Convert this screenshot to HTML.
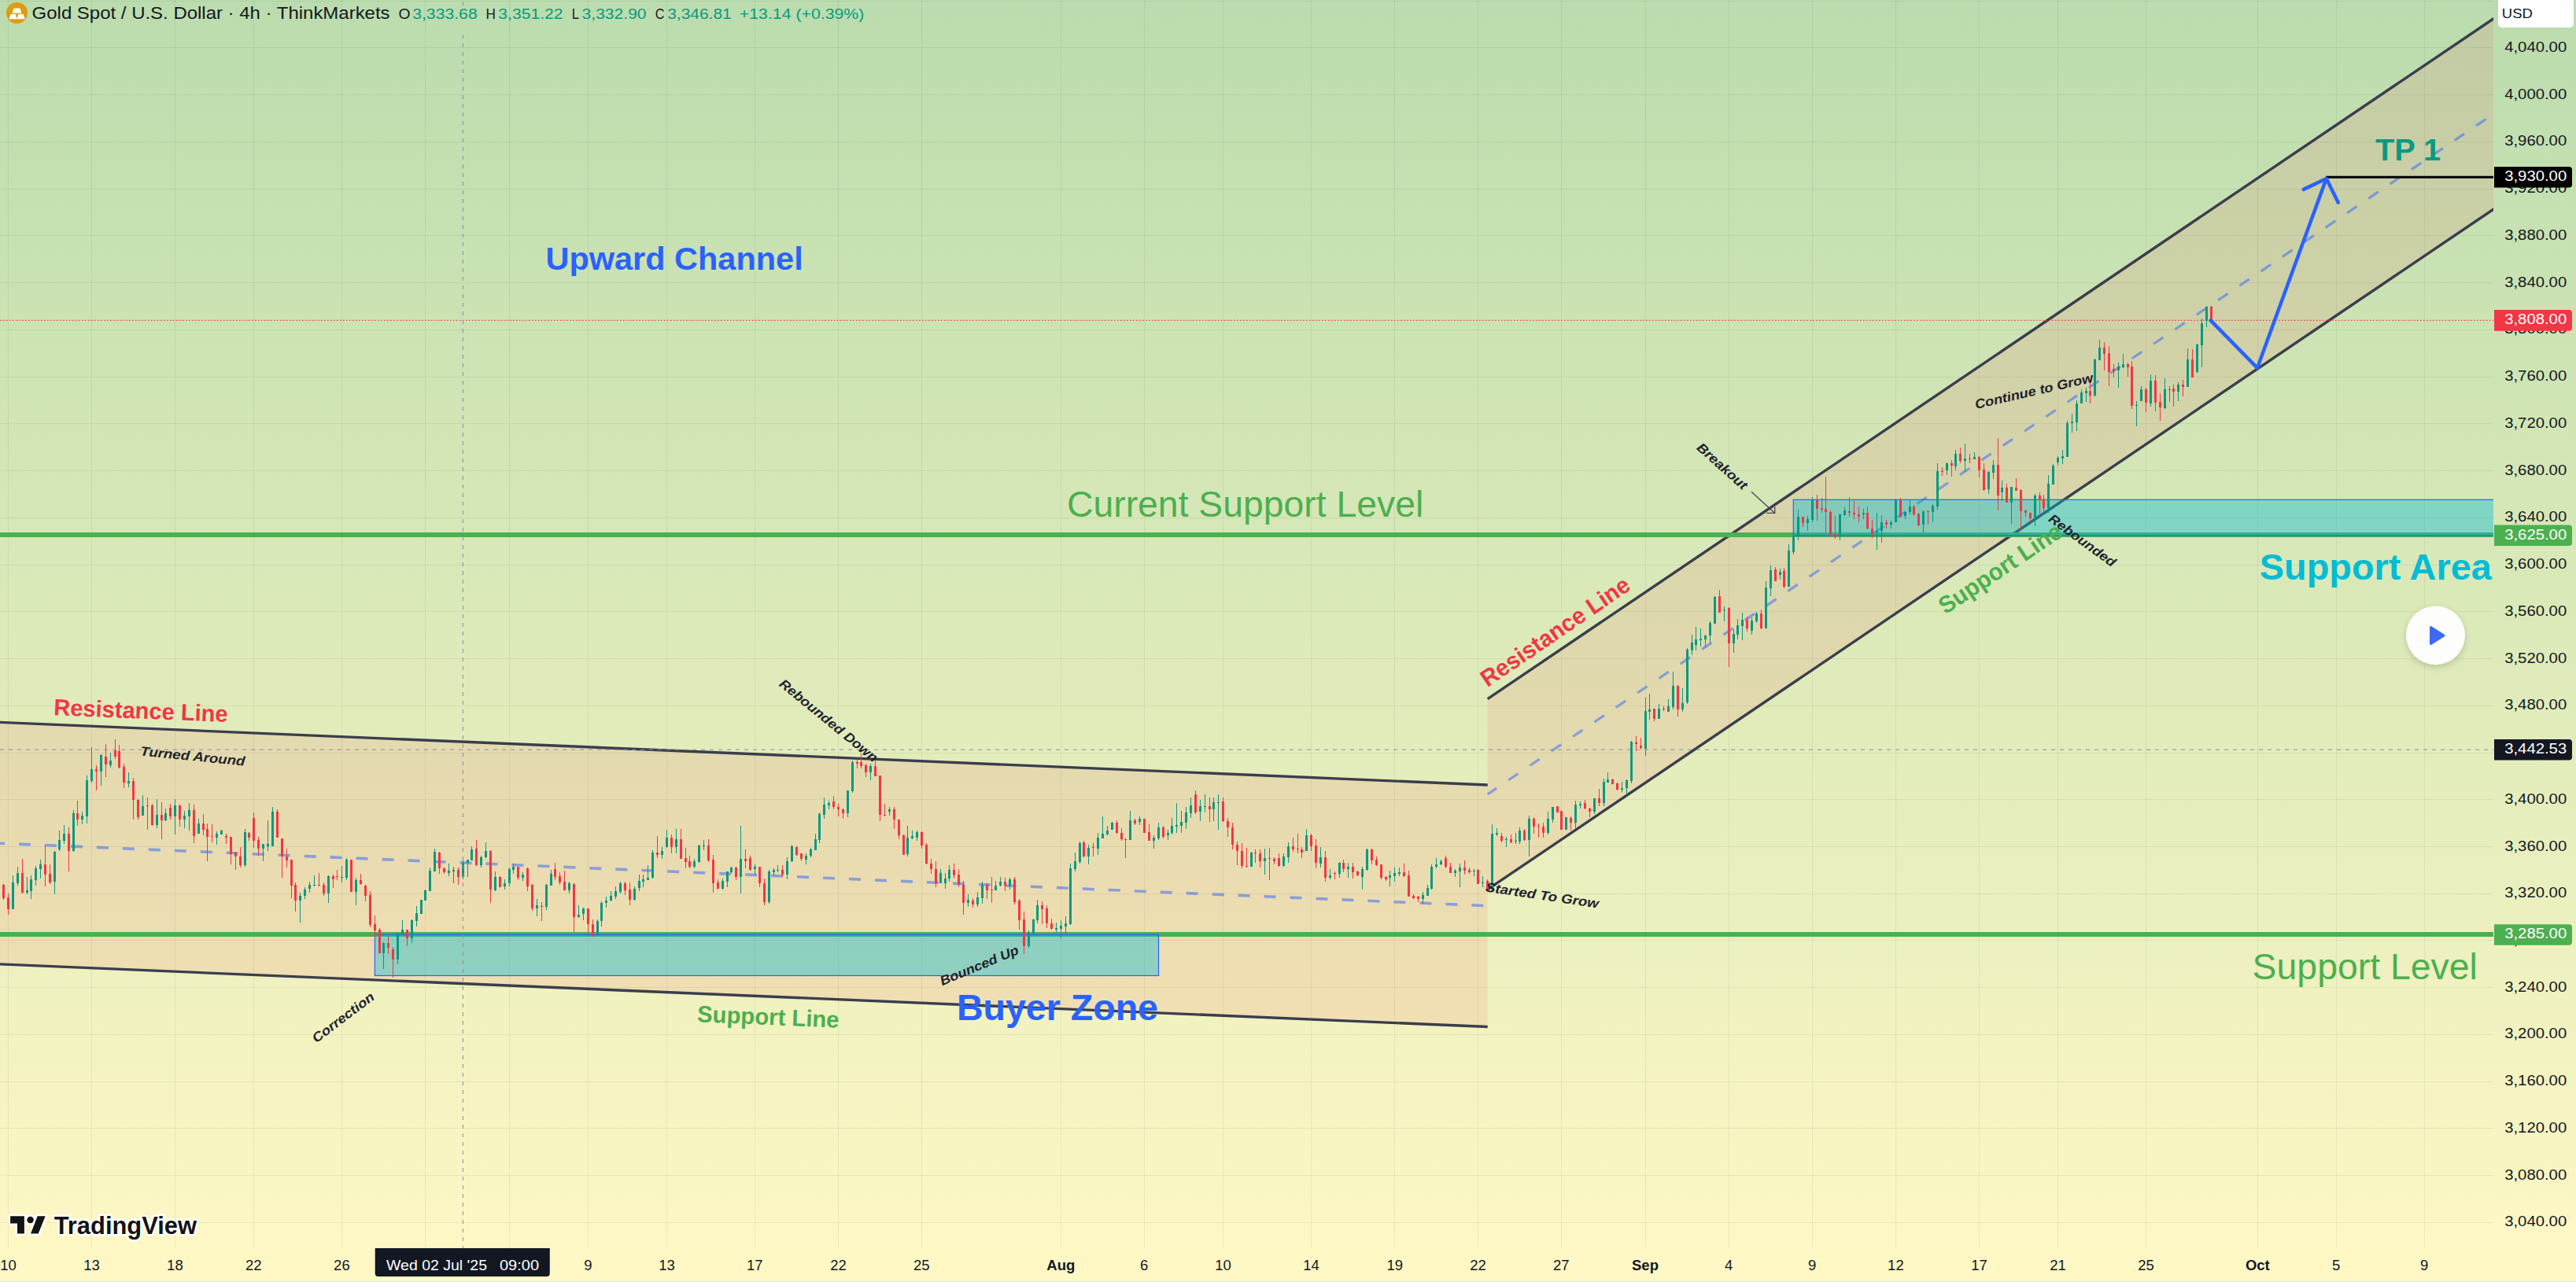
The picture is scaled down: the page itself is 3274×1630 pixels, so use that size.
<!DOCTYPE html><html><head><meta charset="utf-8"><title>Gold Spot / U.S. Dollar</title>
<style>html,body{margin:0;padding:0;background:#fef7c4;}svg{display:block}text{font-family:"Liberation Sans",sans-serif;}</style></head><body>
<svg width="3274" height="1630" viewBox="0 0 3274 1630">
<defs><linearGradient id="bg" x1="0" y1="0" x2="0" y2="1"><stop offset="0" stop-color="#bbdcae"/><stop offset="1" stop-color="#fff8c5"/></linearGradient>
<clipPath id="pane"><rect x="0" y="0" width="3169" height="1587"/></clipPath>
<filter id="sh" x="-30%" y="-30%" width="160%" height="160%"><feDropShadow dx="0" dy="3" stdDeviation="4" flood-color="#000" flood-opacity="0.18"/></filter></defs>
<rect width="3274" height="1630" fill="url(#bg)"/>
<g stroke="#000" stroke-opacity="0.058" stroke-width="1" clip-path="url(#pane)" shape-rendering="crispEdges"><line x1="10.5" y1="0" x2="10.5" y2="1587"/><line x1="116.5" y1="0" x2="116.5" y2="1587"/><line x1="222.5" y1="0" x2="222.5" y2="1587"/><line x1="322.5" y1="0" x2="322.5" y2="1587"/><line x1="434.5" y1="0" x2="434.5" y2="1587"/><line x1="540.5" y1="0" x2="540.5" y2="1587"/><line x1="647.5" y1="0" x2="647.5" y2="1587"/><line x1="747.5" y1="0" x2="747.5" y2="1587"/><line x1="847.5" y1="0" x2="847.5" y2="1587"/><line x1="959.5" y1="0" x2="959.5" y2="1587"/><line x1="1065.5" y1="0" x2="1065.5" y2="1587"/><line x1="1171.5" y1="0" x2="1171.5" y2="1587"/><line x1="1348.5" y1="0" x2="1348.5" y2="1587"/><line x1="1454.5" y1="0" x2="1454.5" y2="1587"/><line x1="1554.5" y1="0" x2="1554.5" y2="1587"/><line x1="1666.5" y1="0" x2="1666.5" y2="1587"/><line x1="1772.5" y1="0" x2="1772.5" y2="1587"/><line x1="1878.5" y1="0" x2="1878.5" y2="1587"/><line x1="1984.5" y1="0" x2="1984.5" y2="1587"/><line x1="2091.5" y1="0" x2="2091.5" y2="1587"/><line x1="2197.5" y1="0" x2="2197.5" y2="1587"/><line x1="2303.5" y1="0" x2="2303.5" y2="1587"/><line x1="2409.5" y1="0" x2="2409.5" y2="1587"/><line x1="2515.5" y1="0" x2="2515.5" y2="1587"/><line x1="2615.5" y1="0" x2="2615.5" y2="1587"/><line x1="2727.5" y1="0" x2="2727.5" y2="1587"/><line x1="2869.5" y1="0" x2="2869.5" y2="1587"/><line x1="2969.5" y1="0" x2="2969.5" y2="1587"/><line x1="3081.5" y1="0" x2="3081.5" y2="1587"/><line x1="0" y1="1.5" x2="3169" y2="1.5"/><line x1="0" y1="60.5" x2="3169" y2="60.5"/><line x1="0" y1="120.5" x2="3169" y2="120.5"/><line x1="0" y1="180.5" x2="3169" y2="180.5"/><line x1="0" y1="240.5" x2="3169" y2="240.5"/><line x1="0" y1="299.5" x2="3169" y2="299.5"/><line x1="0" y1="359.5" x2="3169" y2="359.5"/><line x1="0" y1="419.5" x2="3169" y2="419.5"/><line x1="0" y1="479.5" x2="3169" y2="479.5"/><line x1="0" y1="538.5" x2="3169" y2="538.5"/><line x1="0" y1="598.5" x2="3169" y2="598.5"/><line x1="0" y1="658.5" x2="3169" y2="658.5"/><line x1="0" y1="718.5" x2="3169" y2="718.5"/><line x1="0" y1="777.5" x2="3169" y2="777.5"/><line x1="0" y1="837.5" x2="3169" y2="837.5"/><line x1="0" y1="897.5" x2="3169" y2="897.5"/><line x1="0" y1="957.5" x2="3169" y2="957.5"/><line x1="0" y1="1016.5" x2="3169" y2="1016.5"/><line x1="0" y1="1076.5" x2="3169" y2="1076.5"/><line x1="0" y1="1136.5" x2="3169" y2="1136.5"/><line x1="0" y1="1195.5" x2="3169" y2="1195.5"/><line x1="0" y1="1255.5" x2="3169" y2="1255.5"/><line x1="0" y1="1315.5" x2="3169" y2="1315.5"/><line x1="0" y1="1375.5" x2="3169" y2="1375.5"/><line x1="0" y1="1434.5" x2="3169" y2="1434.5"/><line x1="0" y1="1494.5" x2="3169" y2="1494.5"/><line x1="0" y1="1554.5" x2="3169" y2="1554.5"/></g>
<g clip-path="url(#pane)">
<polygon points="0,918.4 1890.7,998.0 1890.7,1305.5 0,1225.9" fill="#f23645" fill-opacity="0.1"/>
<polygon points="1890.7,888.6 3172,21.8 3172,264.1 1890.7,1130.9" fill="#f23645" fill-opacity="0.1"/>
<line x1="0" y1="1072.2" x2="1890.7" y2="1151.7" stroke="#2962ff" stroke-opacity="0.5" stroke-width="3.6" stroke-dasharray="15,18" stroke-dashoffset="9"/>
<line x1="1890.7" y1="1009.8" x2="3172" y2="143.0" stroke="#2962ff" stroke-opacity="0.5" stroke-width="3.2" stroke-dasharray="15,18" stroke-dashoffset="1.2"/>
<line x1="-2" y1="918.3" x2="1890.7" y2="998.0" stroke="#3a3e4c" stroke-width="3.4"/>
<line x1="-2" y1="1225.8" x2="1890.7" y2="1305.5" stroke="#3a3e4c" stroke-width="3.4"/>
<line x1="1890.7" y1="888.6" x2="3172" y2="21.8" stroke="#3a3e4c" stroke-width="3.4"/>
<line x1="1890.7" y1="1130.9" x2="3172" y2="264.1" stroke="#3a3e4c" stroke-width="3.4"/>
<rect x="0" y="677" width="3169" height="6" fill="#4caf50"/>
<rect x="0" y="1185" width="3169" height="6" fill="#4caf50"/>
<rect x="476.4" y="1188.4" width="996.1" height="52.09999999999991" fill="#00bcd4" fill-opacity="0.4" stroke="#2962ff" stroke-width="1.2"/>
<rect x="2279.3" y="635.3" width="895.6999999999998" height="45.60000000000002" fill="#00bcd4" fill-opacity="0.4" stroke="#2962ff" stroke-width="1.2"/>
<line x1="0" y1="407.4" x2="3169" y2="407.4" stroke="#f23645" stroke-width="1.2" stroke-dasharray="1.5,2.5"/>
<g shape-rendering="crispEdges"><path fill="#f23645" d="M4 1124h1V1144h-1ZM3 1125h3V1142h-3Z"/><path fill="#f23645" d="M10 1136h1V1163h-1ZM9 1141h3V1156h-3Z"/><path fill="#089981" d="M16 1113h1V1156h-1ZM15 1122h3V1156h-3Z"/><path fill="#089981" d="M22 1102h1V1126h-1ZM21 1110h3V1123h-3Z"/><path fill="#f23645" d="M28 1092h1V1136h-1ZM27 1110h3V1135h-3Z"/><path fill="#089981" d="M34 1115h1V1137h-1ZM33 1132h3V1135h-3Z"/><path fill="#089981" d="M39 1113h1V1143h-1ZM38 1118h3V1133h-3Z"/><path fill="#089981" d="M45 1101h1V1126h-1ZM44 1104h3V1119h-3Z"/><path fill="#089981" d="M51 1093h1V1117h-1ZM50 1099h3V1105h-3Z"/><path fill="#f23645" d="M57 1075h1V1127h-1ZM56 1099h3V1112h-3Z"/><path fill="#f23645" d="M63 1099h1V1124h-1ZM62 1111h3V1122h-3Z"/><path fill="#089981" d="M69 1082h1V1137h-1ZM68 1083h3V1121h-3Z"/><path fill="#089981" d="M75 1056h1V1082h-1ZM74 1068h3V1080h-3Z"/><path fill="#089981" d="M81 1049h1V1073h-1ZM80 1060h3V1069h-3Z"/><path fill="#f23645" d="M87 1052h1V1108h-1ZM86 1060h3V1082h-3Z"/><path fill="#089981" d="M93 1030h1V1083h-1ZM92 1034h3V1082h-3Z"/><path fill="#f23645" d="M98 1018h1V1050h-1ZM97 1034h3V1042h-3Z"/><path fill="#089981" d="M104 1032h1V1048h-1ZM103 1037h3V1042h-3Z"/><path fill="#089981" d="M110 986h1V1047h-1ZM109 992h3V1038h-3Z"/><path fill="#089981" d="M116 950h1V995h-1ZM115 978h3V993h-3Z"/><path fill="#f23645" d="M122 973h1V1005h-1ZM121 978h3V981h-3Z"/><path fill="#089981" d="M128 959h1V999h-1ZM127 960h3V981h-3Z"/><path fill="#f23645" d="M134 946h1V988h-1ZM133 962h3V972h-3Z"/><path fill="#089981" d="M140 957h1V976h-1ZM139 967h3V973h-3Z"/><path fill="#f23645" d="M146 940h1V965h-1ZM145 954h3V962h-3Z"/><path fill="#f23645" d="M151 947h1V977h-1ZM150 955h3V976h-3Z"/><path fill="#f23645" d="M157 971h1V1002h-1ZM156 975h3V995h-3Z"/><path fill="#089981" d="M163 982h1V1001h-1ZM162 993h3V996h-3Z"/><path fill="#f23645" d="M169 989h1V1042h-1ZM168 993h3V1017h-3Z"/><path fill="#f23645" d="M175 1016h1V1042h-1ZM174 1017h3V1039h-3Z"/><path fill="#089981" d="M181 1011h1V1037h-1ZM180 1025h3V1037h-3Z"/><path fill="#f23645" d="M187 1014h1V1055h-1ZM186 1024h3V1025h-3Z"/><path fill="#f23645" d="M193 1022h1V1050h-1ZM192 1024h3V1049h-3Z"/><path fill="#089981" d="M199 1016h1V1053h-1ZM198 1036h3V1049h-3Z"/><path fill="#f23645" d="M205 1020h1V1067h-1ZM204 1036h3V1043h-3Z"/><path fill="#089981" d="M210 1028h1V1044h-1ZM209 1034h3V1043h-3Z"/><path fill="#f23645" d="M216 1022h1V1042h-1ZM215 1027h3V1038h-3Z"/><path fill="#089981" d="M222 1016h1V1061h-1ZM221 1024h3V1038h-3Z"/><path fill="#f23645" d="M228 1023h1V1051h-1ZM227 1024h3V1042h-3Z"/><path fill="#089981" d="M234 1031h1V1053h-1ZM233 1037h3V1042h-3Z"/><path fill="#089981" d="M240 1021h1V1056h-1ZM239 1030h3V1038h-3Z"/><path fill="#f23645" d="M246 1023h1V1072h-1ZM245 1030h3V1063h-3Z"/><path fill="#089981" d="M252 1041h1V1060h-1ZM251 1047h3V1060h-3Z"/><path fill="#f23645" d="M258 1035h1V1062h-1ZM257 1047h3V1055h-3Z"/><path fill="#f23645" d="M263 1047h1V1095h-1ZM262 1054h3V1064h-3Z"/><path fill="#f23645" d="M269 1048h1V1071h-1ZM268 1063h3V1064h-3Z"/><path fill="#089981" d="M275 1057h1V1074h-1ZM274 1060h3V1065h-3Z"/><path fill="#089981" d="M281 1055h1V1061h-1ZM280 1056h3V1061h-3Z"/><path fill="#f23645" d="M287 1060h1V1073h-1ZM286 1063h3V1065h-3Z"/><path fill="#f23645" d="M293 1064h1V1099h-1ZM292 1064h3V1086h-3Z"/><path fill="#f23645" d="M299 1083h1V1106h-1ZM298 1084h3V1089h-3Z"/><path fill="#f23645" d="M305 1077h1V1103h-1ZM304 1089h3V1100h-3Z"/><path fill="#089981" d="M311 1054h1V1102h-1ZM310 1058h3V1100h-3Z"/><path fill="#f23645" d="M316 1058h1V1069h-1ZM315 1059h3V1065h-3Z"/><path fill="#f23645" d="M322 1033h1V1078h-1ZM321 1040h3V1069h-3Z"/><path fill="#f23645" d="M328 1064h1V1088h-1ZM327 1068h3V1079h-3Z"/><path fill="#089981" d="M334 1073h1V1095h-1ZM333 1073h3V1079h-3Z"/><path fill="#089981" d="M340 1043h1V1082h-1ZM339 1073h3V1076h-3Z"/><path fill="#089981" d="M346 1026h1V1076h-1ZM345 1032h3V1076h-3Z"/><path fill="#f23645" d="M352 1029h1V1065h-1ZM351 1032h3V1065h-3Z"/><path fill="#f23645" d="M358 1066h1V1116h-1ZM357 1066h3V1089h-3Z"/><path fill="#f23645" d="M364 1079h1V1103h-1ZM363 1089h3V1094h-3Z"/><path fill="#f23645" d="M370 1093h1V1142h-1ZM369 1093h3V1126h-3Z"/><path fill="#f23645" d="M375 1122h1V1159h-1ZM374 1125h3V1145h-3Z"/><path fill="#089981" d="M381 1135h1V1173h-1ZM380 1139h3V1145h-3Z"/><path fill="#089981" d="M387 1128h1V1143h-1ZM386 1131h3V1139h-3Z"/><path fill="#089981" d="M393 1121h1V1135h-1ZM392 1125h3V1130h-3Z"/><path fill="#089981" d="M399 1113h1V1127h-1ZM398 1125h3V1126h-3Z"/><path fill="#f23645" d="M405 1110h1V1127h-1ZM404 1125h3V1126h-3Z"/><path fill="#f23645" d="M411 1122h1V1139h-1ZM410 1125h3V1136h-3Z"/><path fill="#089981" d="M417 1113h1V1148h-1ZM416 1114h3V1136h-3Z"/><path fill="#f23645" d="M423 1112h1V1129h-1ZM422 1114h3V1118h-3Z"/><path fill="#f23645" d="M428 1106h1V1119h-1ZM427 1114h3V1115h-3Z"/><path fill="#089981" d="M434 1101h1V1122h-1ZM433 1115h3V1116h-3Z"/><path fill="#089981" d="M440 1091h1V1119h-1ZM439 1093h3V1116h-3Z"/><path fill="#f23645" d="M446 1093h1V1134h-1ZM445 1093h3V1134h-3Z"/><path fill="#089981" d="M452 1116h1V1151h-1ZM451 1119h3V1134h-3Z"/><path fill="#f23645" d="M458 1111h1V1125h-1ZM457 1119h3V1124h-3Z"/><path fill="#f23645" d="M464 1125h1V1146h-1ZM463 1126h3V1139h-3Z"/><path fill="#f23645" d="M470 1133h1V1179h-1ZM469 1138h3V1176h-3Z"/><path fill="#f23645" d="M476 1164h1V1193h-1ZM475 1175h3V1183h-3Z"/><path fill="#f23645" d="M482 1180h1V1212h-1ZM481 1182h3V1212h-3Z"/><path fill="#089981" d="M487 1198h1V1232h-1ZM486 1199h3V1212h-3Z"/><path fill="#f23645" d="M493 1191h1V1213h-1ZM492 1199h3V1205h-3Z"/><path fill="#f23645" d="M499 1204h1V1243h-1ZM498 1207h3V1220h-3Z"/><path fill="#089981" d="M505 1186h1V1226h-1ZM504 1187h3V1220h-3Z"/><path fill="#089981" d="M511 1170h1V1189h-1ZM510 1182h3V1189h-3Z"/><path fill="#f23645" d="M517 1182h1V1203h-1ZM516 1182h3V1193h-3Z"/><path fill="#089981" d="M523 1169h1V1199h-1ZM522 1170h3V1193h-3Z"/><path fill="#089981" d="M529 1152h1V1178h-1ZM528 1161h3V1171h-3Z"/><path fill="#089981" d="M535 1144h1V1162h-1ZM534 1144h3V1162h-3Z"/><path fill="#089981" d="M540 1131h1V1145h-1ZM539 1132h3V1145h-3Z"/><path fill="#089981" d="M546 1103h1V1133h-1ZM545 1107h3V1133h-3Z"/><path fill="#089981" d="M552 1079h1V1108h-1ZM551 1083h3V1108h-3Z"/><path fill="#f23645" d="M558 1083h1V1111h-1ZM557 1084h3V1104h-3Z"/><path fill="#f23645" d="M564 1103h1V1111h-1ZM563 1104h3V1109h-3Z"/><path fill="#089981" d="M570 1098h1V1114h-1ZM569 1107h3V1110h-3Z"/><path fill="#089981" d="M576 1102h1V1123h-1ZM575 1106h3V1108h-3Z"/><path fill="#f23645" d="M582 1103h1V1125h-1ZM581 1106h3V1115h-3Z"/><path fill="#089981" d="M588 1089h1V1118h-1ZM587 1097h3V1115h-3Z"/><path fill="#089981" d="M594 1093h1V1115h-1ZM593 1093h3V1097h-3Z"/><path fill="#089981" d="M599 1076h1V1094h-1ZM598 1080h3V1094h-3Z"/><path fill="#f23645" d="M605 1068h1V1101h-1ZM604 1079h3V1100h-3Z"/><path fill="#089981" d="M611 1088h1V1103h-1ZM610 1090h3V1100h-3Z"/><path fill="#089981" d="M617 1071h1V1091h-1ZM616 1082h3V1090h-3Z"/><path fill="#f23645" d="M623 1081h1V1148h-1ZM622 1082h3V1131h-3Z"/><path fill="#089981" d="M629 1108h1V1133h-1ZM628 1115h3V1132h-3Z"/><path fill="#f23645" d="M635 1114h1V1128h-1ZM634 1115h3V1128h-3Z"/><path fill="#089981" d="M641 1118h1V1131h-1ZM640 1123h3V1127h-3Z"/><path fill="#089981" d="M647 1103h1V1127h-1ZM646 1105h3V1123h-3Z"/><path fill="#089981" d="M652 1098h1V1111h-1ZM651 1102h3V1106h-3Z"/><path fill="#f23645" d="M658 1102h1V1119h-1ZM657 1102h3V1116h-3Z"/><path fill="#089981" d="M664 1109h1V1120h-1ZM663 1112h3V1116h-3Z"/><path fill="#f23645" d="M670 1103h1V1133h-1ZM669 1104h3V1127h-3Z"/><path fill="#f23645" d="M676 1124h1V1158h-1ZM675 1125h3V1155h-3Z"/><path fill="#089981" d="M682 1143h1V1165h-1ZM681 1151h3V1155h-3Z"/><path fill="#f23645" d="M688 1147h1V1171h-1ZM687 1152h3V1153h-3Z"/><path fill="#089981" d="M694 1124h1V1157h-1ZM693 1125h3V1153h-3Z"/><path fill="#089981" d="M700 1106h1V1126h-1ZM699 1111h3V1126h-3Z"/><path fill="#f23645" d="M705 1097h1V1119h-1ZM704 1105h3V1115h-3Z"/><path fill="#f23645" d="M711 1109h1V1125h-1ZM710 1114h3V1122h-3Z"/><path fill="#f23645" d="M717 1107h1V1132h-1ZM716 1121h3V1132h-3Z"/><path fill="#089981" d="M723 1121h1V1136h-1ZM722 1123h3V1132h-3Z"/><path fill="#f23645" d="M729 1123h1V1185h-1ZM728 1124h3V1166h-3Z"/><path fill="#089981" d="M735 1151h1V1167h-1ZM734 1163h3V1166h-3Z"/><path fill="#089981" d="M741 1154h1V1170h-1ZM740 1155h3V1162h-3Z"/><path fill="#f23645" d="M747 1155h1V1188h-1ZM746 1155h3V1175h-3Z"/><path fill="#f23645" d="M753 1169h1V1191h-1ZM752 1175h3V1190h-3Z"/><path fill="#089981" d="M759 1169h1V1190h-1ZM758 1171h3V1188h-3Z"/><path fill="#089981" d="M764 1146h1V1178h-1ZM763 1148h3V1171h-3Z"/><path fill="#089981" d="M770 1140h1V1154h-1ZM769 1145h3V1148h-3Z"/><path fill="#089981" d="M776 1133h1V1146h-1ZM775 1139h3V1145h-3Z"/><path fill="#089981" d="M782 1127h1V1143h-1ZM781 1133h3V1140h-3Z"/><path fill="#089981" d="M788 1121h1V1136h-1ZM787 1123h3V1134h-3Z"/><path fill="#f23645" d="M794 1121h1V1138h-1ZM793 1123h3V1132h-3Z"/><path fill="#f23645" d="M800 1122h1V1151h-1ZM799 1131h3V1144h-3Z"/><path fill="#089981" d="M806 1127h1V1145h-1ZM805 1130h3V1144h-3Z"/><path fill="#089981" d="M812 1112h1V1133h-1ZM811 1120h3V1129h-3Z"/><path fill="#089981" d="M817 1112h1V1128h-1ZM816 1118h3V1121h-3Z"/><path fill="#089981" d="M823 1100h1V1119h-1ZM822 1116h3V1119h-3Z"/><path fill="#089981" d="M829 1081h1V1117h-1ZM828 1084h3V1116h-3Z"/><path fill="#f23645" d="M835 1063h1V1091h-1ZM834 1084h3V1087h-3Z"/><path fill="#089981" d="M841 1077h1V1092h-1ZM840 1082h3V1087h-3Z"/><path fill="#089981" d="M847 1055h1V1078h-1ZM846 1065h3V1077h-3Z"/><path fill="#f23645" d="M853 1061h1V1085h-1ZM852 1065h3V1077h-3Z"/><path fill="#089981" d="M859 1054h1V1085h-1ZM858 1067h3V1077h-3Z"/><path fill="#f23645" d="M865 1054h1V1092h-1ZM864 1067h3V1092h-3Z"/><path fill="#f23645" d="M871 1078h1V1104h-1ZM870 1091h3V1096h-3Z"/><path fill="#f23645" d="M876 1088h1V1104h-1ZM875 1095h3V1102h-3Z"/><path fill="#089981" d="M882 1092h1V1104h-1ZM881 1095h3V1102h-3Z"/><path fill="#089981" d="M888 1074h1V1097h-1ZM887 1075h3V1096h-3Z"/><path fill="#089981" d="M894 1068h1V1081h-1ZM893 1075h3V1076h-3Z"/><path fill="#f23645" d="M900 1067h1V1096h-1ZM899 1075h3V1094h-3Z"/><path fill="#f23645" d="M906 1087h1V1135h-1ZM905 1093h3V1123h-3Z"/><path fill="#f23645" d="M912 1118h1V1131h-1ZM911 1122h3V1130h-3Z"/><path fill="#089981" d="M918 1117h1V1131h-1ZM917 1120h3V1130h-3Z"/><path fill="#089981" d="M924 1108h1V1128h-1ZM923 1108h3V1121h-3Z"/><path fill="#089981" d="M929 1102h1V1110h-1ZM928 1103h3V1109h-3Z"/><path fill="#f23645" d="M935 1102h1V1119h-1ZM934 1103h3V1115h-3Z"/><path fill="#089981" d="M941 1050h1V1136h-1ZM940 1092h3V1115h-3Z"/><path fill="#f23645" d="M947 1080h1V1104h-1ZM946 1092h3V1095h-3Z"/><path fill="#f23645" d="M953 1088h1V1107h-1ZM952 1091h3V1106h-3Z"/><path fill="#089981" d="M959 1099h1V1112h-1ZM958 1102h3V1105h-3Z"/><path fill="#f23645" d="M965 1102h1V1128h-1ZM964 1102h3V1123h-3Z"/><path fill="#f23645" d="M971 1117h1V1151h-1ZM970 1123h3V1147h-3Z"/><path fill="#089981" d="M977 1106h1V1149h-1ZM976 1108h3V1147h-3Z"/><path fill="#089981" d="M983 1104h1V1113h-1ZM982 1106h3V1109h-3Z"/><path fill="#089981" d="M988 1100h1V1109h-1ZM987 1106h3V1107h-3Z"/><path fill="#f23645" d="M994 1100h1V1115h-1ZM993 1106h3V1112h-3Z"/><path fill="#089981" d="M1000 1090h1V1118h-1ZM999 1095h3V1112h-3Z"/><path fill="#089981" d="M1006 1074h1V1096h-1ZM1005 1076h3V1095h-3Z"/><path fill="#f23645" d="M1012 1076h1V1088h-1ZM1011 1077h3V1087h-3Z"/><path fill="#f23645" d="M1018 1085h1V1095h-1ZM1017 1085h3V1092h-3Z"/><path fill="#089981" d="M1024 1085h1V1099h-1ZM1023 1088h3V1093h-3Z"/><path fill="#089981" d="M1030 1078h1V1090h-1ZM1029 1080h3V1088h-3Z"/><path fill="#089981" d="M1036 1060h1V1081h-1ZM1035 1067h3V1081h-3Z"/><path fill="#089981" d="M1041 1033h1V1072h-1ZM1040 1035h3V1068h-3Z"/><path fill="#089981" d="M1047 1014h1V1041h-1ZM1046 1023h3V1036h-3Z"/><path fill="#089981" d="M1053 1018h1V1029h-1ZM1052 1021h3V1024h-3Z"/><path fill="#f23645" d="M1059 1012h1V1029h-1ZM1058 1019h3V1026h-3Z"/><path fill="#f23645" d="M1065 1022h1V1038h-1ZM1064 1026h3V1029h-3Z"/><path fill="#f23645" d="M1071 1028h1V1041h-1ZM1070 1029h3V1034h-3Z"/><path fill="#089981" d="M1077 1005h1V1039h-1ZM1076 1005h3V1034h-3Z"/><path fill="#089981" d="M1083 967h1V1008h-1ZM1082 969h3V1006h-3Z"/><path fill="#f23645" d="M1089 966h1V977h-1ZM1088 969h3V971h-3Z"/><path fill="#f23645" d="M1094 958h1V977h-1ZM1093 969h3V974h-3Z"/><path fill="#f23645" d="M1100 971h1V988h-1ZM1099 973h3V982h-3Z"/><path fill="#089981" d="M1106 971h1V992h-1ZM1105 974h3V982h-3Z"/><path fill="#f23645" d="M1112 966h1V987h-1ZM1111 974h3V987h-3Z"/><path fill="#f23645" d="M1118 986h1V1044h-1ZM1117 986h3V1036h-3Z"/><path fill="#f23645" d="M1124 1022h1V1038h-1ZM1123 1036h3V1037h-3Z"/><path fill="#089981" d="M1130 1026h1V1037h-1ZM1129 1029h3V1032h-3Z"/><path fill="#f23645" d="M1136 1026h1V1054h-1ZM1135 1029h3V1042h-3Z"/><path fill="#f23645" d="M1142 1042h1V1067h-1ZM1141 1042h3V1062h-3Z"/><path fill="#f23645" d="M1148 1061h1V1087h-1ZM1147 1062h3V1087h-3Z"/><path fill="#089981" d="M1153 1050h1V1089h-1ZM1152 1065h3V1086h-3Z"/><path fill="#089981" d="M1159 1056h1V1067h-1ZM1158 1063h3V1066h-3Z"/><path fill="#089981" d="M1165 1056h1V1069h-1ZM1164 1058h3V1065h-3Z"/><path fill="#f23645" d="M1171 1057h1V1079h-1ZM1170 1058h3V1075h-3Z"/><path fill="#f23645" d="M1177 1072h1V1099h-1ZM1176 1074h3V1098h-3Z"/><path fill="#f23645" d="M1183 1092h1V1111h-1ZM1182 1098h3V1105h-3Z"/><path fill="#f23645" d="M1189 1095h1V1128h-1ZM1188 1105h3V1123h-3Z"/><path fill="#089981" d="M1195 1105h1V1123h-1ZM1194 1110h3V1123h-3Z"/><path fill="#089981" d="M1201 1110h1V1130h-1ZM1200 1117h3V1123h-3Z"/><path fill="#089981" d="M1206 1100h1V1121h-1ZM1205 1106h3V1117h-3Z"/><path fill="#f23645" d="M1212 1098h1V1117h-1ZM1211 1106h3V1113h-3Z"/><path fill="#f23645" d="M1218 1105h1V1128h-1ZM1217 1112h3V1125h-3Z"/><path fill="#f23645" d="M1224 1120h1V1163h-1ZM1223 1125h3V1148h-3Z"/><path fill="#089981" d="M1230 1137h1V1153h-1ZM1229 1144h3V1148h-3Z"/><path fill="#f23645" d="M1236 1142h1V1154h-1ZM1235 1145h3V1150h-3Z"/><path fill="#089981" d="M1242 1134h1V1153h-1ZM1241 1141h3V1150h-3Z"/><path fill="#089981" d="M1248 1121h1V1149h-1ZM1247 1125h3V1142h-3Z"/><path fill="#f23645" d="M1254 1123h1V1143h-1ZM1253 1125h3V1132h-3Z"/><path fill="#f23645" d="M1260 1115h1V1148h-1ZM1259 1131h3V1132h-3Z"/><path fill="#089981" d="M1265 1120h1V1132h-1ZM1264 1126h3V1132h-3Z"/><path fill="#089981" d="M1271 1115h1V1127h-1ZM1270 1121h3V1126h-3Z"/><path fill="#f23645" d="M1277 1116h1V1133h-1ZM1276 1121h3V1126h-3Z"/><path fill="#089981" d="M1283 1116h1V1131h-1ZM1282 1118h3V1126h-3Z"/><path fill="#f23645" d="M1289 1115h1V1150h-1ZM1288 1118h3V1147h-3Z"/><path fill="#f23645" d="M1295 1143h1V1182h-1ZM1294 1145h3V1170h-3Z"/><path fill="#f23645" d="M1301 1159h1V1213h-1ZM1300 1169h3V1203h-3Z"/><path fill="#089981" d="M1307 1183h1V1205h-1ZM1306 1186h3V1203h-3Z"/><path fill="#089981" d="M1313 1168h1V1188h-1ZM1312 1169h3V1187h-3Z"/><path fill="#089981" d="M1318 1144h1V1174h-1ZM1317 1151h3V1170h-3Z"/><path fill="#f23645" d="M1324 1146h1V1175h-1ZM1323 1151h3V1156h-3Z"/><path fill="#f23645" d="M1330 1151h1V1180h-1ZM1329 1155h3V1174h-3Z"/><path fill="#f23645" d="M1336 1168h1V1182h-1ZM1335 1174h3V1181h-3Z"/><path fill="#089981" d="M1342 1173h1V1186h-1ZM1341 1180h3V1182h-3Z"/><path fill="#089981" d="M1348 1170h1V1193h-1ZM1347 1177h3V1181h-3Z"/><path fill="#089981" d="M1354 1165h1V1187h-1ZM1353 1174h3V1178h-3Z"/><path fill="#089981" d="M1360 1098h1V1176h-1ZM1359 1104h3V1175h-3Z"/><path fill="#089981" d="M1366 1084h1V1108h-1ZM1365 1095h3V1105h-3Z"/><path fill="#089981" d="M1372 1070h1V1098h-1ZM1371 1072h3V1096h-3Z"/><path fill="#f23645" d="M1377 1069h1V1090h-1ZM1376 1071h3V1089h-3Z"/><path fill="#089981" d="M1383 1074h1V1099h-1ZM1382 1078h3V1089h-3Z"/><path fill="#f23645" d="M1389 1072h1V1089h-1ZM1388 1077h3V1078h-3Z"/><path fill="#089981" d="M1395 1059h1V1087h-1ZM1394 1065h3V1079h-3Z"/><path fill="#089981" d="M1401 1038h1V1066h-1ZM1400 1060h3V1066h-3Z"/><path fill="#089981" d="M1407 1050h1V1062h-1ZM1406 1056h3V1061h-3Z"/><path fill="#089981" d="M1413 1045h1V1055h-1ZM1412 1046h3V1055h-3Z"/><path fill="#f23645" d="M1419 1043h1V1060h-1ZM1418 1046h3V1059h-3Z"/><path fill="#f23645" d="M1425 1053h1V1069h-1ZM1424 1059h3V1067h-3Z"/><path fill="#f23645" d="M1430 1066h1V1091h-1ZM1429 1067h3V1068h-3Z"/><path fill="#089981" d="M1436 1031h1V1068h-1ZM1435 1043h3V1068h-3Z"/><path fill="#f23645" d="M1442 1041h1V1049h-1ZM1441 1043h3V1047h-3Z"/><path fill="#089981" d="M1448 1038h1V1049h-1ZM1447 1041h3V1045h-3Z"/><path fill="#f23645" d="M1454 1041h1V1059h-1ZM1453 1041h3V1059h-3Z"/><path fill="#f23645" d="M1460 1048h1V1069h-1ZM1459 1058h3V1069h-3Z"/><path fill="#089981" d="M1466 1062h1V1079h-1ZM1465 1065h3V1069h-3Z"/><path fill="#089981" d="M1472 1046h1V1068h-1ZM1471 1052h3V1066h-3Z"/><path fill="#f23645" d="M1478 1050h1V1066h-1ZM1477 1052h3V1064h-3Z"/><path fill="#089981" d="M1484 1055h1V1068h-1ZM1483 1059h3V1062h-3Z"/><path fill="#089981" d="M1489 1040h1V1061h-1ZM1488 1050h3V1059h-3Z"/><path fill="#089981" d="M1495 1021h1V1059h-1ZM1494 1049h3V1051h-3Z"/><path fill="#089981" d="M1501 1031h1V1059h-1ZM1500 1045h3V1050h-3Z"/><path fill="#089981" d="M1507 1026h1V1054h-1ZM1506 1033h3V1046h-3Z"/><path fill="#089981" d="M1513 1014h1V1040h-1ZM1512 1024h3V1034h-3Z"/><path fill="#f23645" d="M1519 1005h1V1035h-1ZM1518 1010h3V1033h-3Z"/><path fill="#089981" d="M1525 1017h1V1044h-1ZM1524 1025h3V1032h-3Z"/><path fill="#089981" d="M1531 1010h1V1033h-1ZM1530 1025h3V1026h-3Z"/><path fill="#f23645" d="M1537 1014h1V1045h-1ZM1536 1025h3V1029h-3Z"/><path fill="#089981" d="M1542 1014h1V1044h-1ZM1541 1020h3V1029h-3Z"/><path fill="#089981" d="M1548 1010h1V1055h-1ZM1547 1020h3V1021h-3Z"/><path fill="#f23645" d="M1554 1014h1V1045h-1ZM1553 1019h3V1044h-3Z"/><path fill="#f23645" d="M1560 1040h1V1064h-1ZM1559 1044h3V1052h-3Z"/><path fill="#f23645" d="M1566 1046h1V1080h-1ZM1565 1052h3V1074h-3Z"/><path fill="#f23645" d="M1572 1070h1V1100h-1ZM1571 1074h3V1082h-3Z"/><path fill="#f23645" d="M1578 1072h1V1104h-1ZM1577 1082h3V1101h-3Z"/><path fill="#f23645" d="M1584 1078h1V1103h-1ZM1583 1101h3V1102h-3Z"/><path fill="#089981" d="M1590 1083h1V1102h-1ZM1589 1084h3V1102h-3Z"/><path fill="#f23645" d="M1595 1080h1V1097h-1ZM1594 1084h3V1085h-3Z"/><path fill="#f23645" d="M1601 1080h1V1103h-1ZM1600 1085h3V1095h-3Z"/><path fill="#089981" d="M1607 1079h1V1112h-1ZM1606 1091h3V1095h-3Z"/><path fill="#f23645" d="M1613 1078h1V1119h-1ZM1612 1091h3V1092h-3Z"/><path fill="#f23645" d="M1619 1090h1V1099h-1ZM1618 1092h3V1095h-3Z"/><path fill="#f23645" d="M1625 1085h1V1102h-1ZM1624 1091h3V1101h-3Z"/><path fill="#089981" d="M1631 1085h1V1102h-1ZM1630 1089h3V1101h-3Z"/><path fill="#089981" d="M1637 1071h1V1097h-1ZM1636 1076h3V1090h-3Z"/><path fill="#f23645" d="M1643 1065h1V1083h-1ZM1642 1076h3V1080h-3Z"/><path fill="#f23645" d="M1649 1060h1V1085h-1ZM1648 1079h3V1080h-3Z"/><path fill="#f23645" d="M1654 1077h1V1091h-1ZM1653 1080h3V1084h-3Z"/><path fill="#089981" d="M1660 1054h1V1082h-1ZM1659 1062h3V1082h-3Z"/><path fill="#f23645" d="M1666 1060h1V1082h-1ZM1665 1062h3V1076h-3Z"/><path fill="#f23645" d="M1672 1067h1V1104h-1ZM1671 1075h3V1097h-3Z"/><path fill="#089981" d="M1678 1077h1V1103h-1ZM1677 1090h3V1098h-3Z"/><path fill="#f23645" d="M1684 1082h1V1121h-1ZM1683 1090h3V1116h-3Z"/><path fill="#089981" d="M1690 1105h1V1118h-1ZM1689 1113h3V1116h-3Z"/><path fill="#f23645" d="M1696 1108h1V1118h-1ZM1695 1110h3V1111h-3Z"/><path fill="#089981" d="M1702 1096h1V1116h-1ZM1701 1097h3V1111h-3Z"/><path fill="#f23645" d="M1707 1093h1V1109h-1ZM1706 1097h3V1105h-3Z"/><path fill="#089981" d="M1713 1097h1V1116h-1ZM1712 1102h3V1105h-3Z"/><path fill="#f23645" d="M1719 1097h1V1117h-1ZM1718 1102h3V1109h-3Z"/><path fill="#f23645" d="M1725 1107h1V1114h-1ZM1724 1108h3V1113h-3Z"/><path fill="#089981" d="M1731 1102h1V1131h-1ZM1730 1105h3V1115h-3Z"/><path fill="#089981" d="M1737 1079h1V1107h-1ZM1736 1080h3V1106h-3Z"/><path fill="#f23645" d="M1743 1079h1V1099h-1ZM1742 1080h3V1094h-3Z"/><path fill="#f23645" d="M1749 1089h1V1101h-1ZM1748 1093h3V1100h-3Z"/><path fill="#f23645" d="M1755 1099h1V1118h-1ZM1754 1099h3V1116h-3Z"/><path fill="#f23645" d="M1761 1114h1V1120h-1ZM1760 1115h3V1118h-3Z"/><path fill="#089981" d="M1766 1107h1V1127h-1ZM1765 1113h3V1116h-3Z"/><path fill="#089981" d="M1772 1103h1V1121h-1ZM1771 1110h3V1114h-3Z"/><path fill="#089981" d="M1778 1103h1V1114h-1ZM1777 1109h3V1111h-3Z"/><path fill="#f23645" d="M1784 1098h1V1115h-1ZM1783 1109h3V1114h-3Z"/><path fill="#f23645" d="M1790 1107h1V1140h-1ZM1789 1113h3V1140h-3Z"/><path fill="#f23645" d="M1796 1137h1V1143h-1ZM1795 1139h3V1142h-3Z"/><path fill="#f23645" d="M1802 1139h1V1147h-1ZM1801 1140h3V1143h-3Z"/><path fill="#089981" d="M1808 1134h1V1149h-1ZM1807 1138h3V1143h-3Z"/><path fill="#089981" d="M1814 1125h1V1139h-1ZM1813 1129h3V1139h-3Z"/><path fill="#089981" d="M1819 1099h1V1131h-1ZM1818 1102h3V1130h-3Z"/><path fill="#089981" d="M1825 1091h1V1104h-1ZM1824 1099h3V1102h-3Z"/><path fill="#089981" d="M1831 1093h1V1100h-1ZM1830 1095h3V1099h-3Z"/><path fill="#f23645" d="M1837 1088h1V1104h-1ZM1836 1091h3V1102h-3Z"/><path fill="#f23645" d="M1843 1097h1V1110h-1ZM1842 1102h3V1110h-3Z"/><path fill="#089981" d="M1849 1105h1V1115h-1ZM1848 1107h3V1110h-3Z"/><path fill="#089981" d="M1855 1098h1V1128h-1ZM1854 1103h3V1108h-3Z"/><path fill="#f23645" d="M1861 1094h1V1112h-1ZM1860 1103h3V1107h-3Z"/><path fill="#f23645" d="M1867 1103h1V1111h-1ZM1866 1106h3V1109h-3Z"/><path fill="#089981" d="M1873 1105h1V1114h-1ZM1872 1107h3V1108h-3Z"/><path fill="#f23645" d="M1878 1105h1V1124h-1ZM1877 1106h3V1124h-3Z"/><path fill="#089981" d="M1884 1114h1V1128h-1ZM1883 1122h3V1123h-3Z"/><path fill="#f23645" d="M1890 1118h1V1133h-1ZM1889 1120h3V1133h-3Z"/><path fill="#089981" d="M1896 1048h1V1131h-1ZM1895 1060h3V1131h-3Z"/><path fill="#089981" d="M1902 1053h1V1063h-1ZM1901 1059h3V1061h-3Z"/><path fill="#f23645" d="M1908 1059h1V1071h-1ZM1907 1063h3V1069h-3Z"/><path fill="#089981" d="M1914 1064h1V1077h-1ZM1913 1067h3V1068h-3Z"/><path fill="#f23645" d="M1920 1061h1V1072h-1ZM1919 1067h3V1071h-3Z"/><path fill="#089981" d="M1926 1059h1V1073h-1ZM1925 1069h3V1070h-3Z"/><path fill="#089981" d="M1931 1052h1V1073h-1ZM1930 1056h3V1070h-3Z"/><path fill="#f23645" d="M1937 1054h1V1069h-1ZM1936 1056h3V1068h-3Z"/><path fill="#089981" d="M1943 1037h1V1089h-1ZM1942 1041h3V1068h-3Z"/><path fill="#f23645" d="M1949 1039h1V1060h-1ZM1948 1041h3V1051h-3Z"/><path fill="#f23645" d="M1955 1047h1V1065h-1ZM1954 1050h3V1051h-3Z"/><path fill="#f23645" d="M1961 1046h1V1065h-1ZM1960 1051h3V1059h-3Z"/><path fill="#089981" d="M1967 1032h1V1061h-1ZM1966 1041h3V1059h-3Z"/><path fill="#089981" d="M1973 1026h1V1046h-1ZM1972 1026h3V1042h-3Z"/><path fill="#f23645" d="M1979 1025h1V1033h-1ZM1978 1025h3V1033h-3Z"/><path fill="#f23645" d="M1984 1031h1V1055h-1ZM1983 1031h3V1055h-3Z"/><path fill="#089981" d="M1990 1039h1V1055h-1ZM1989 1039h3V1055h-3Z"/><path fill="#f23645" d="M1996 1038h1V1056h-1ZM1995 1040h3V1046h-3Z"/><path fill="#089981" d="M2002 1018h1V1053h-1ZM2001 1023h3V1046h-3Z"/><path fill="#089981" d="M2008 1019h1V1028h-1ZM2007 1022h3V1024h-3Z"/><path fill="#f23645" d="M2014 1017h1V1029h-1ZM2013 1021h3V1028h-3Z"/><path fill="#f23645" d="M2020 1027h1V1039h-1ZM2019 1028h3V1032h-3Z"/><path fill="#089981" d="M2026 1015h1V1035h-1ZM2025 1015h3V1032h-3Z"/><path fill="#f23645" d="M2032 1003h1V1025h-1ZM2031 1015h3V1021h-3Z"/><path fill="#089981" d="M2038 990h1V1025h-1ZM2037 994h3V1021h-3Z"/><path fill="#089981" d="M2043 982h1V995h-1ZM2042 991h3V995h-3Z"/><path fill="#f23645" d="M2049 990h1V997h-1ZM2048 991h3V997h-3Z"/><path fill="#f23645" d="M2055 995h1V1005h-1ZM2054 996h3V1004h-3Z"/><path fill="#089981" d="M2061 994h1V1007h-1ZM2060 1002h3V1004h-3Z"/><path fill="#089981" d="M2067 991h1V1011h-1ZM2066 992h3V1002h-3Z"/><path fill="#089981" d="M2073 942h1V996h-1ZM2072 943h3V993h-3Z"/><path fill="#f23645" d="M2079 936h1V955h-1ZM2078 944h3V946h-3Z"/><path fill="#f23645" d="M2085 938h1V953h-1ZM2084 948h3V951h-3Z"/><path fill="#089981" d="M2091 887h1V961h-1ZM2090 904h3V952h-3Z"/><path fill="#089981" d="M2096 882h1V915h-1ZM2095 902h3V905h-3Z"/><path fill="#f23645" d="M2102 901h1V917h-1ZM2101 901h3V914h-3Z"/><path fill="#089981" d="M2108 895h1V914h-1ZM2107 901h3V914h-3Z"/><path fill="#f23645" d="M2114 898h1V904h-1ZM2113 901h3V902h-3Z"/><path fill="#089981" d="M2120 889h1V905h-1ZM2119 898h3V905h-3Z"/><path fill="#089981" d="M2126 854h1V902h-1ZM2125 872h3V899h-3Z"/><path fill="#f23645" d="M2132 871h1V911h-1ZM2131 872h3V902h-3Z"/><path fill="#089981" d="M2138 875h1V905h-1ZM2137 894h3V902h-3Z"/><path fill="#089981" d="M2144 824h1V895h-1ZM2143 826h3V893h-3Z"/><path fill="#089981" d="M2150 807h1V833h-1ZM2149 817h3V827h-3Z"/><path fill="#089981" d="M2155 797h1V827h-1ZM2154 813h3V820h-3Z"/><path fill="#089981" d="M2161 799h1V822h-1ZM2160 812h3V814h-3Z"/><path fill="#089981" d="M2167 807h1V823h-1ZM2166 808h3V813h-3Z"/><path fill="#089981" d="M2173 790h1V817h-1ZM2172 792h3V808h-3Z"/><path fill="#089981" d="M2179 758h1V793h-1ZM2178 759h3V793h-3Z"/><path fill="#f23645" d="M2185 750h1V779h-1ZM2184 758h3V779h-3Z"/><path fill="#089981" d="M2191 771h1V790h-1ZM2190 775h3V776h-3Z"/><path fill="#f23645" d="M2197 772h1V848h-1ZM2196 773h3V818h-3Z"/><path fill="#089981" d="M2203 800h1V830h-1ZM2202 806h3V818h-3Z"/><path fill="#089981" d="M2208 787h1V813h-1ZM2207 795h3V807h-3Z"/><path fill="#089981" d="M2214 779h1V814h-1ZM2213 788h3V796h-3Z"/><path fill="#f23645" d="M2220 784h1V803h-1ZM2219 788h3V799h-3Z"/><path fill="#089981" d="M2226 785h1V807h-1ZM2225 789h3V802h-3Z"/><path fill="#089981" d="M2232 778h1V792h-1ZM2231 780h3V790h-3Z"/><path fill="#f23645" d="M2238 775h1V800h-1ZM2237 780h3V799h-3Z"/><path fill="#089981" d="M2244 739h1V799h-1ZM2243 747h3V799h-3Z"/><path fill="#089981" d="M2250 719h1V758h-1ZM2249 725h3V748h-3Z"/><path fill="#f23645" d="M2256 721h1V739h-1ZM2255 724h3V739h-3Z"/><path fill="#089981" d="M2262 723h1V737h-1ZM2261 727h3V731h-3Z"/><path fill="#f23645" d="M2267 722h1V748h-1ZM2266 726h3V746h-3Z"/><path fill="#089981" d="M2273 692h1V746h-1ZM2272 700h3V746h-3Z"/><path fill="#089981" d="M2279 681h1V705h-1ZM2278 682h3V702h-3Z"/><path fill="#089981" d="M2285 648h1V687h-1ZM2284 657h3V682h-3Z"/><path fill="#f23645" d="M2291 657h1V670h-1ZM2290 657h3V665h-3Z"/><path fill="#089981" d="M2297 656h1V675h-1ZM2296 660h3V665h-3Z"/><path fill="#089981" d="M2303 632h1V664h-1ZM2302 636h3V661h-3Z"/><path fill="#f23645" d="M2309 629h1V662h-1ZM2308 636h3V647h-3Z"/><path fill="#f23645" d="M2315 633h1V652h-1ZM2314 646h3V648h-3Z"/><path fill="#f23645" d="M2320 606h1V677h-1ZM2319 647h3V651h-3Z"/><path fill="#f23645" d="M2326 649h1V680h-1ZM2325 651h3V680h-3Z"/><path fill="#f23645" d="M2332 656h1V685h-1ZM2331 679h3V683h-3Z"/><path fill="#089981" d="M2338 653h1V687h-1ZM2337 654h3V682h-3Z"/><path fill="#089981" d="M2344 645h1V656h-1ZM2343 649h3V655h-3Z"/><path fill="#f23645" d="M2350 632h1V657h-1ZM2349 650h3V652h-3Z"/><path fill="#f23645" d="M2356 635h1V660h-1ZM2355 652h3V654h-3Z"/><path fill="#f23645" d="M2362 644h1V664h-1ZM2361 654h3V657h-3Z"/><path fill="#089981" d="M2368 647h1V660h-1ZM2367 652h3V654h-3Z"/><path fill="#f23645" d="M2373 644h1V673h-1ZM2372 652h3V672h-3Z"/><path fill="#f23645" d="M2379 661h1V684h-1ZM2378 672h3V679h-3Z"/><path fill="#089981" d="M2385 652h1V699h-1ZM2384 675h3V677h-3Z"/><path fill="#089981" d="M2391 655h1V690h-1ZM2390 664h3V675h-3Z"/><path fill="#f23645" d="M2397 661h1V672h-1ZM2396 664h3V667h-3Z"/><path fill="#089981" d="M2403 662h1V672h-1ZM2402 664h3V667h-3Z"/><path fill="#089981" d="M2409 634h1V664h-1ZM2408 636h3V664h-3Z"/><path fill="#f23645" d="M2415 633h1V658h-1ZM2414 636h3V657h-3Z"/><path fill="#089981" d="M2421 650h1V660h-1ZM2420 651h3V656h-3Z"/><path fill="#089981" d="M2427 636h1V654h-1ZM2426 644h3V651h-3Z"/><path fill="#f23645" d="M2432 642h1V656h-1ZM2431 644h3V654h-3Z"/><path fill="#f23645" d="M2438 653h1V669h-1ZM2437 653h3V668h-3Z"/><path fill="#089981" d="M2444 649h1V677h-1ZM2443 650h3V667h-3Z"/><path fill="#f23645" d="M2450 649h1V667h-1ZM2449 650h3V651h-3Z"/><path fill="#089981" d="M2456 641h1V664h-1ZM2455 643h3V651h-3Z"/><path fill="#089981" d="M2462 589h1V648h-1ZM2461 599h3V644h-3Z"/><path fill="#f23645" d="M2468 594h1V605h-1ZM2467 599h3V600h-3Z"/><path fill="#089981" d="M2474 588h1V604h-1ZM2473 589h3V598h-3Z"/><path fill="#f23645" d="M2480 585h1V606h-1ZM2479 589h3V592h-3Z"/><path fill="#089981" d="M2485 572h1V598h-1ZM2484 577h3V593h-3Z"/><path fill="#f23645" d="M2491 569h1V589h-1ZM2490 577h3V586h-3Z"/><path fill="#089981" d="M2497 564h1V600h-1ZM2496 583h3V586h-3Z"/><path fill="#f23645" d="M2503 577h1V589h-1ZM2502 583h3V584h-3Z"/><path fill="#089981" d="M2509 575h1V584h-1ZM2508 581h3V584h-3Z"/><path fill="#f23645" d="M2515 580h1V607h-1ZM2514 581h3V598h-3Z"/><path fill="#f23645" d="M2521 589h1V624h-1ZM2520 597h3V623h-3Z"/><path fill="#089981" d="M2527 599h1V628h-1ZM2526 600h3V622h-3Z"/><path fill="#089981" d="M2533 585h1V609h-1ZM2532 591h3V601h-3Z"/><path fill="#f23645" d="M2539 557h1V649h-1ZM2538 591h3V630h-3Z"/><path fill="#089981" d="M2544 611h1V637h-1ZM2543 620h3V626h-3Z"/><path fill="#f23645" d="M2550 615h1V639h-1ZM2549 620h3V639h-3Z"/><path fill="#089981" d="M2556 619h1V666h-1ZM2555 619h3V639h-3Z"/><path fill="#f23645" d="M2562 608h1V624h-1ZM2561 620h3V624h-3Z"/><path fill="#f23645" d="M2568 622h1V675h-1ZM2567 623h3V650h-3Z"/><path fill="#f23645" d="M2574 648h1V657h-1ZM2573 649h3V652h-3Z"/><path fill="#f23645" d="M2580 652h1V663h-1ZM2579 652h3V659h-3Z"/><path fill="#089981" d="M2586 628h1V669h-1ZM2585 630h3V659h-3Z"/><path fill="#f23645" d="M2592 626h1V653h-1ZM2591 630h3V636h-3Z"/><path fill="#f23645" d="M2597 629h1V651h-1ZM2596 635h3V646h-3Z"/><path fill="#089981" d="M2603 604h1V652h-1ZM2602 615h3V646h-3Z"/><path fill="#089981" d="M2609 590h1V616h-1ZM2608 592h3V616h-3Z"/><path fill="#089981" d="M2615 580h1V592h-1ZM2614 582h3V588h-3Z"/><path fill="#089981" d="M2621 572h1V590h-1ZM2620 580h3V583h-3Z"/><path fill="#089981" d="M2627 535h1V581h-1ZM2626 538h3V581h-3Z"/><path fill="#089981" d="M2633 526h1V550h-1ZM2632 536h3V538h-3Z"/><path fill="#089981" d="M2639 509h1V548h-1ZM2638 513h3V537h-3Z"/><path fill="#089981" d="M2645 495h1V513h-1ZM2644 499h3V513h-3Z"/><path fill="#089981" d="M2651 493h1V511h-1ZM2650 497h3V500h-3Z"/><path fill="#f23645" d="M2656 483h1V513h-1ZM2655 497h3V503h-3Z"/><path fill="#089981" d="M2662 456h1V504h-1ZM2661 457h3V503h-3Z"/><path fill="#089981" d="M2668 432h1V458h-1ZM2667 442h3V458h-3Z"/><path fill="#f23645" d="M2674 435h1V471h-1ZM2673 442h3V450h-3Z"/><path fill="#f23645" d="M2680 440h1V491h-1ZM2679 449h3V473h-3Z"/><path fill="#f23645" d="M2686 463h1V480h-1ZM2685 469h3V472h-3Z"/><path fill="#089981" d="M2692 461h1V493h-1ZM2691 466h3V471h-3Z"/><path fill="#089981" d="M2698 450h1V468h-1ZM2697 463h3V467h-3Z"/><path fill="#f23645" d="M2704 461h1V479h-1ZM2703 463h3V467h-3Z"/><path fill="#f23645" d="M2709 459h1V520h-1ZM2708 466h3V516h-3Z"/><path fill="#089981" d="M2715 510h1V542h-1ZM2714 515h3V516h-3Z"/><path fill="#089981" d="M2721 491h1V510h-1ZM2720 495h3V510h-3Z"/><path fill="#f23645" d="M2727 493h1V524h-1ZM2726 495h3V512h-3Z"/><path fill="#089981" d="M2733 476h1V517h-1ZM2732 484h3V513h-3Z"/><path fill="#f23645" d="M2739 477h1V523h-1ZM2738 484h3V512h-3Z"/><path fill="#f23645" d="M2745 500h1V535h-1ZM2744 511h3V518h-3Z"/><path fill="#089981" d="M2751 481h1V520h-1ZM2750 495h3V519h-3Z"/><path fill="#089981" d="M2757 491h1V511h-1ZM2756 495h3V496h-3Z"/><path fill="#f23645" d="M2762 489h1V517h-1ZM2761 494h3V498h-3Z"/><path fill="#089981" d="M2768 486h1V510h-1ZM2767 489h3V498h-3Z"/><path fill="#f23645" d="M2774 483h1V504h-1ZM2773 489h3V492h-3Z"/><path fill="#089981" d="M2780 443h1V492h-1ZM2779 457h3V492h-3Z"/><path fill="#f23645" d="M2786 444h1V480h-1ZM2785 457h3V480h-3Z"/><path fill="#089981" d="M2792 437h1V474h-1ZM2791 438h3V473h-3Z"/><path fill="#089981" d="M2798 405h1V467h-1ZM2797 411h3V439h-3Z"/><path fill="#089981" d="M2804 389h1V416h-1ZM2803 390h3V408h-3Z"/><path fill="#f23645" d="M2810 389h1V407h-1ZM2809 390h3V407h-3Z"/></g>
<path d="M588.4 2V14M588.4 44V1587" fill="none" stroke="#8a8d99" stroke-width="1" stroke-dasharray="5,6"/>
<line x1="0" y1="953.2" x2="3169" y2="953.2" stroke="#8a8d99" stroke-width="1" stroke-dasharray="5,6"/>
<line x1="2956" y1="225.3" x2="3169" y2="225.3" stroke="#000" stroke-width="3"/>
<path d="M2809.6 407.4L2869 467.8L2956.7 227M2927.7 240.9L2956.7 227L2971.7 257.4" fill="none" stroke="#2962ff" stroke-width="4.5" stroke-linecap="round" stroke-linejoin="round"/>
<path d="M2226 625.2L2255.7 652.4M2245.3 652.4L2255.7 652.4L2255.7 644.5" fill="none" stroke="#434651" stroke-width="1.3"/>
<text x="693.5" y="342.9" font-size="41.2" fill="#2962ff" font-weight="bold" font-style="normal" textLength="327.2" lengthAdjust="spacingAndGlyphs">Upward Channel</text>
<text x="1356.0" y="657.1" font-size="46.8" fill="#4caf50" font-weight="normal" font-style="normal" textLength="453.3" lengthAdjust="spacingAndGlyphs">Current Support Level</text>
<text x="2871.8" y="736.8" font-size="46.8" fill="#00bcd4" font-weight="bold" font-style="normal" textLength="295.0" lengthAdjust="spacingAndGlyphs">Support Area</text>
<text x="2862.6" y="1245.0" font-size="46.8" fill="#4caf50" font-weight="normal" font-style="normal" textLength="286.3" lengthAdjust="spacingAndGlyphs">Support Level</text>
<text x="3019.0" y="204.4" font-size="39" fill="#089981" font-weight="bold" font-style="normal" textLength="83.2" lengthAdjust="spacingAndGlyphs">TP 1</text>
<text x="1215.9" y="1296.8" font-size="45.5" fill="#2962ff" font-weight="bold" font-style="normal" textLength="256.1" lengthAdjust="spacingAndGlyphs">Buyer Zone</text>
<text x="68.0" y="909.2" font-size="29.5" fill="#f23645" font-weight="bold" font-style="normal" textLength="221.3" lengthAdjust="spacingAndGlyphs" transform="rotate(2.28 68.0 909.2)">Resistance Line</text>
<text x="885.8" y="1299.3" font-size="29.7" fill="#4caf50" font-weight="bold" font-style="normal" textLength="180.5" lengthAdjust="spacingAndGlyphs" transform="rotate(2.38 885.8 1299.3)">Support Line</text>
<text x="1890.4" y="874.3" font-size="30" fill="#f23645" font-weight="bold" font-style="normal" textLength="222.8" lengthAdjust="spacingAndGlyphs" transform="rotate(-34.37 1890.4 874.3)">Resistance Line</text>
<text x="2472.5" y="781.8" font-size="30.5" fill="#4caf50" font-weight="bold" font-style="normal" textLength="181.6" lengthAdjust="spacingAndGlyphs" transform="rotate(-33.75 2472.5 781.8)">Support Line</text>
<text x="178.0" y="960.5" font-size="16.6" fill="#1e222d" font-weight="bold" font-style="italic" textLength="133.5" lengthAdjust="spacingAndGlyphs" transform="rotate(5.63 178.0 960.5)">Turned Around</text>
<text x="989.3" y="871.2" font-size="16.6" fill="#1e222d" font-weight="bold" font-style="italic" textLength="155.7" lengthAdjust="spacingAndGlyphs" transform="rotate(39.29 989.3 871.2)">Rebounded Down</text>
<text x="402.1" y="1326.6" font-size="16.6" fill="#1e222d" font-weight="bold" font-style="italic" textLength="94.1" lengthAdjust="spacingAndGlyphs" transform="rotate(-37.27 402.1 1326.6)">Correction</text>
<text x="1197.4" y="1253.3" font-size="16.6" fill="#1e222d" font-weight="bold" font-style="italic" textLength="106.8" lengthAdjust="spacingAndGlyphs" transform="rotate(-22.58 1197.4 1253.3)">Bounced Up</text>
<text x="1887.4" y="1133.3" font-size="16.6" fill="#1e222d" font-weight="bold" font-style="italic" textLength="145.2" lengthAdjust="spacingAndGlyphs" transform="rotate(8.44 1887.4 1133.3)">Started To Grow</text>
<text x="2155.5" y="570.4" font-size="16.6" fill="#1e222d" font-weight="bold" font-style="italic" textLength="79.7" lengthAdjust="spacingAndGlyphs" transform="rotate(41.95 2155.5 570.4)">Breakout</text>
<text x="2511.4" y="520.1" font-size="16.6" fill="#1e222d" font-weight="bold" font-style="italic" textLength="153.6" lengthAdjust="spacingAndGlyphs" transform="rotate(-13.01 2511.4 520.1)">Continue to Grow</text>
<text x="2602.5" y="661.8" font-size="16.6" fill="#1e222d" font-weight="bold" font-style="italic" textLength="101.0" lengthAdjust="spacingAndGlyphs" transform="rotate(36.22 2602.5 661.8)">Rebounded</text>
</g>
<circle cx="3095.5" cy="807.8" r="37.4" fill="#fdfdfb" filter="url(#sh)"/>
<path d="M3089.5 797.5L3106 808L3089.5 818.5Z" fill="#3d6af5" stroke="#3d6af5" stroke-width="3" stroke-linejoin="round"/>
<text x="3183.2" y="65.9" font-size="18" fill="#131722" font-weight="normal" font-style="normal" textLength="79.0" lengthAdjust="spacingAndGlyphs">4,040.00</text>
<text x="3183.2" y="125.6" font-size="18" fill="#131722" font-weight="normal" font-style="normal" textLength="79.0" lengthAdjust="spacingAndGlyphs">4,000.00</text>
<text x="3183.2" y="185.4" font-size="18" fill="#131722" font-weight="normal" font-style="normal" textLength="79.0" lengthAdjust="spacingAndGlyphs">3,960.00</text>
<text x="3183.2" y="245.1" font-size="18" fill="#131722" font-weight="normal" font-style="normal" textLength="79.0" lengthAdjust="spacingAndGlyphs">3,920.00</text>
<text x="3183.2" y="304.9" font-size="18" fill="#131722" font-weight="normal" font-style="normal" textLength="79.0" lengthAdjust="spacingAndGlyphs">3,880.00</text>
<text x="3183.2" y="364.6" font-size="18" fill="#131722" font-weight="normal" font-style="normal" textLength="79.0" lengthAdjust="spacingAndGlyphs">3,840.00</text>
<text x="3183.2" y="424.3" font-size="18" fill="#131722" font-weight="normal" font-style="normal" textLength="79.0" lengthAdjust="spacingAndGlyphs">3,800.00</text>
<text x="3183.2" y="484.1" font-size="18" fill="#131722" font-weight="normal" font-style="normal" textLength="79.0" lengthAdjust="spacingAndGlyphs">3,760.00</text>
<text x="3183.2" y="543.8" font-size="18" fill="#131722" font-weight="normal" font-style="normal" textLength="79.0" lengthAdjust="spacingAndGlyphs">3,720.00</text>
<text x="3183.2" y="603.6" font-size="18" fill="#131722" font-weight="normal" font-style="normal" textLength="79.0" lengthAdjust="spacingAndGlyphs">3,680.00</text>
<text x="3183.2" y="663.3" font-size="18" fill="#131722" font-weight="normal" font-style="normal" textLength="79.0" lengthAdjust="spacingAndGlyphs">3,640.00</text>
<text x="3183.2" y="723.0" font-size="18" fill="#131722" font-weight="normal" font-style="normal" textLength="79.0" lengthAdjust="spacingAndGlyphs">3,600.00</text>
<text x="3183.2" y="782.8" font-size="18" fill="#131722" font-weight="normal" font-style="normal" textLength="79.0" lengthAdjust="spacingAndGlyphs">3,560.00</text>
<text x="3183.2" y="842.5" font-size="18" fill="#131722" font-weight="normal" font-style="normal" textLength="79.0" lengthAdjust="spacingAndGlyphs">3,520.00</text>
<text x="3183.2" y="902.3" font-size="18" fill="#131722" font-weight="normal" font-style="normal" textLength="79.0" lengthAdjust="spacingAndGlyphs">3,480.00</text>
<text x="3183.2" y="962.0" font-size="18" fill="#131722" font-weight="normal" font-style="normal" textLength="79.0" lengthAdjust="spacingAndGlyphs">3,440.00</text>
<text x="3183.2" y="1021.7" font-size="18" fill="#131722" font-weight="normal" font-style="normal" textLength="79.0" lengthAdjust="spacingAndGlyphs">3,400.00</text>
<text x="3183.2" y="1081.5" font-size="18" fill="#131722" font-weight="normal" font-style="normal" textLength="79.0" lengthAdjust="spacingAndGlyphs">3,360.00</text>
<text x="3183.2" y="1141.2" font-size="18" fill="#131722" font-weight="normal" font-style="normal" textLength="79.0" lengthAdjust="spacingAndGlyphs">3,320.00</text>
<text x="3183.2" y="1201.0" font-size="18" fill="#131722" font-weight="normal" font-style="normal" textLength="79.0" lengthAdjust="spacingAndGlyphs">3,280.00</text>
<text x="3183.2" y="1260.7" font-size="18" fill="#131722" font-weight="normal" font-style="normal" textLength="79.0" lengthAdjust="spacingAndGlyphs">3,240.00</text>
<text x="3183.2" y="1320.4" font-size="18" fill="#131722" font-weight="normal" font-style="normal" textLength="79.0" lengthAdjust="spacingAndGlyphs">3,200.00</text>
<text x="3183.2" y="1380.2" font-size="18" fill="#131722" font-weight="normal" font-style="normal" textLength="79.0" lengthAdjust="spacingAndGlyphs">3,160.00</text>
<text x="3183.2" y="1439.9" font-size="18" fill="#131722" font-weight="normal" font-style="normal" textLength="79.0" lengthAdjust="spacingAndGlyphs">3,120.00</text>
<text x="3183.2" y="1499.7" font-size="18" fill="#131722" font-weight="normal" font-style="normal" textLength="79.0" lengthAdjust="spacingAndGlyphs">3,080.00</text>
<text x="3183.2" y="1559.4" font-size="18" fill="#131722" font-weight="normal" font-style="normal" textLength="79.0" lengthAdjust="spacingAndGlyphs">3,040.00</text>
<path d="M3170 211.9H3265a4 4 0 0 1 4 4V234.5a4 4 0 0 1 -4 4H3170Z" fill="#000"/>
<text x="3183.2" y="230.0" font-size="18" fill="#fff" font-weight="normal" font-style="normal" textLength="79.0" lengthAdjust="spacingAndGlyphs">3,930.00</text>
<path d="M3170 394.1H3265a4 4 0 0 1 4 4V416.7a4 4 0 0 1 -4 4H3170Z" fill="#f23645"/>
<text x="3183.2" y="412.2" font-size="18" fill="#fff" font-weight="normal" font-style="normal" textLength="79.0" lengthAdjust="spacingAndGlyphs">3,808.00</text>
<path d="M3170 667.4H3265a4 4 0 0 1 4 4V690.0a4 4 0 0 1 -4 4H3170Z" fill="#4caf50"/>
<text x="3183.2" y="685.5" font-size="18" fill="#fff" font-weight="normal" font-style="normal" textLength="79.0" lengthAdjust="spacingAndGlyphs">3,625.00</text>
<path d="M3170 1175.2H3265a4 4 0 0 1 4 4V1197.8a4 4 0 0 1 -4 4H3170Z" fill="#4caf50"/>
<text x="3183.2" y="1193.3" font-size="18" fill="#fff" font-weight="normal" font-style="normal" textLength="79.0" lengthAdjust="spacingAndGlyphs">3,285.00</text>
<path d="M3170 939.9H3265a4 4 0 0 1 4 4V962.5a4 4 0 0 1 -4 4H3170Z" fill="#131722"/>
<text x="3183.2" y="958.0" font-size="18" fill="#fff" font-weight="normal" font-style="normal" textLength="79.0" lengthAdjust="spacingAndGlyphs">3,442.53</text>
<rect x="3175" y="-6" width="96" height="41" rx="5" fill="#fff"/>
<text x="3179.8" y="22.5" font-size="17" fill="#131722" font-weight="normal" font-style="normal" textLength="39.0" lengthAdjust="spacingAndGlyphs">USD</text>
<text x="10.5" y="1615" font-size="18.5" fill="#131722" text-anchor="middle" font-weight="normal">10</text>
<text x="116.5" y="1615" font-size="18.5" fill="#131722" text-anchor="middle" font-weight="normal">13</text>
<text x="222.4" y="1615" font-size="18.5" fill="#131722" text-anchor="middle" font-weight="normal">18</text>
<text x="322.2" y="1615" font-size="18.5" fill="#131722" text-anchor="middle" font-weight="normal">22</text>
<text x="434.4" y="1615" font-size="18.5" fill="#131722" text-anchor="middle" font-weight="normal">26</text>
<text x="747.3" y="1615" font-size="18.5" fill="#131722" text-anchor="middle" font-weight="normal">9</text>
<text x="847.5" y="1615" font-size="18.5" fill="#131722" text-anchor="middle" font-weight="normal">13</text>
<text x="959.2" y="1615" font-size="18.5" fill="#131722" text-anchor="middle" font-weight="normal">17</text>
<text x="1065.5" y="1615" font-size="18.5" fill="#131722" text-anchor="middle" font-weight="normal">22</text>
<text x="1171.3" y="1615" font-size="18.5" fill="#131722" text-anchor="middle" font-weight="normal">25</text>
<text x="1348.3" y="1615" font-size="18.5" fill="#131722" text-anchor="middle" font-weight="bold">Aug</text>
<text x="1454.2" y="1615" font-size="18.5" fill="#131722" text-anchor="middle" font-weight="normal">6</text>
<text x="1554.5" y="1615" font-size="18.5" fill="#131722" text-anchor="middle" font-weight="normal">10</text>
<text x="1666.6" y="1615" font-size="18.5" fill="#131722" text-anchor="middle" font-weight="normal">14</text>
<text x="1772.7" y="1615" font-size="18.5" fill="#131722" text-anchor="middle" font-weight="normal">19</text>
<text x="1878.6" y="1615" font-size="18.5" fill="#131722" text-anchor="middle" font-weight="normal">22</text>
<text x="1984.3" y="1615" font-size="18.5" fill="#131722" text-anchor="middle" font-weight="normal">27</text>
<text x="2091.0" y="1615" font-size="18.5" fill="#131722" text-anchor="middle" font-weight="bold">Sep</text>
<text x="2197.2" y="1615" font-size="18.5" fill="#131722" text-anchor="middle" font-weight="normal">4</text>
<text x="2303.2" y="1615" font-size="18.5" fill="#131722" text-anchor="middle" font-weight="normal">9</text>
<text x="2409.4" y="1615" font-size="18.5" fill="#131722" text-anchor="middle" font-weight="normal">12</text>
<text x="2515.5" y="1615" font-size="18.5" fill="#131722" text-anchor="middle" font-weight="normal">17</text>
<text x="2615.5" y="1615" font-size="18.5" fill="#131722" text-anchor="middle" font-weight="normal">21</text>
<text x="2727.5" y="1615" font-size="18.5" fill="#131722" text-anchor="middle" font-weight="normal">25</text>
<text x="2869.3" y="1615" font-size="18.5" fill="#131722" text-anchor="middle" font-weight="bold">Oct</text>
<text x="2969.1" y="1615" font-size="18.5" fill="#131722" text-anchor="middle" font-weight="normal">5</text>
<text x="3081.1" y="1615" font-size="18.5" fill="#131722" text-anchor="middle" font-weight="normal">9</text>
<path d="M476.7 1587H698.8V1619a4 4 0 0 1 -4 4H480.7a4 4 0 0 1 -4 -4Z" fill="#131722"/>
<text x="491.0" y="1615.0" font-size="18.5" fill="#fff" font-weight="normal" font-style="normal" textLength="128.0" lengthAdjust="spacingAndGlyphs">Wed 02 Jul '25</text>
<text x="635.0" y="1615.0" font-size="18.5" fill="#fff" font-weight="normal" font-style="normal" textLength="50.0" lengthAdjust="spacingAndGlyphs">09:00</text>
<circle cx="21.5" cy="16.4" r="13.5" fill="#de9c0d"/>
<path d="M17.6 10.6H25.4L27.6 16.8H15.4ZM13.5 18H19.8L21.6 24.2H11.4ZM23.4 18H29.7L31.8 24.2H21.6Z" fill="#fff"/>
<text x="40.6" y="24.2" font-size="22.6" fill="#131722" font-weight="normal" font-style="normal" textLength="455.0" lengthAdjust="spacingAndGlyphs">Gold Spot / U.S. Dollar · 4h · ThinkMarkets</text>
<text x="506.5" y="24.1" font-size="18" fill="#131722" font-weight="normal" font-style="normal" textLength="15.0" lengthAdjust="spacingAndGlyphs">O</text>
<text x="524.2" y="24.1" font-size="18" fill="#089981" font-weight="normal" font-style="normal" textLength="82.5" lengthAdjust="spacingAndGlyphs">3,333.68</text>
<text x="617.4" y="24.1" font-size="18" fill="#131722" font-weight="normal" font-style="normal" textLength="12.4" lengthAdjust="spacingAndGlyphs">H</text>
<text x="633.3" y="24.1" font-size="18" fill="#089981" font-weight="normal" font-style="normal" textLength="82.2" lengthAdjust="spacingAndGlyphs">3,351.22</text>
<text x="726.7" y="24.1" font-size="18" fill="#131722" font-weight="normal" font-style="normal" textLength="9.2" lengthAdjust="spacingAndGlyphs">L</text>
<text x="739.6" y="24.1" font-size="18" fill="#089981" font-weight="normal" font-style="normal" textLength="82.0" lengthAdjust="spacingAndGlyphs">3,332.90</text>
<text x="832.8" y="24.1" font-size="18" fill="#131722" font-weight="normal" font-style="normal" textLength="11.7" lengthAdjust="spacingAndGlyphs">C</text>
<text x="848.2" y="24.1" font-size="18" fill="#089981" font-weight="normal" font-style="normal" textLength="81.5" lengthAdjust="spacingAndGlyphs">3,346.81</text>
<text x="939.8" y="24.1" font-size="18" fill="#089981" font-weight="normal" font-style="normal" textLength="158.6" lengthAdjust="spacingAndGlyphs">+13.14 (+0.39%)</text>
<g stroke="#fff" stroke-width="5" stroke-linejoin="round" paint-order="stroke" fill="#131313">
<path d="M13.1 1546.2H30.9V1568.6H22V1555.4H13.1Z"/><circle cx="38.6" cy="1551" r="4.3"/><path d="M47.7 1546.2H57.7L48.7 1568.6H39Z"/>
<text x="68.7" y="1568.6" font-size="30.7" font-weight="bold" textLength="181.3" lengthAdjust="spacingAndGlyphs">TradingView</text></g>
<rect x="0" y="1629" width="3274" height="1" fill="#e6e6e6"/><path d="M0 1626V1630H4A4 4 0 0 1 0 1626Z" fill="#e6e6e6"/>
</svg></body></html>
